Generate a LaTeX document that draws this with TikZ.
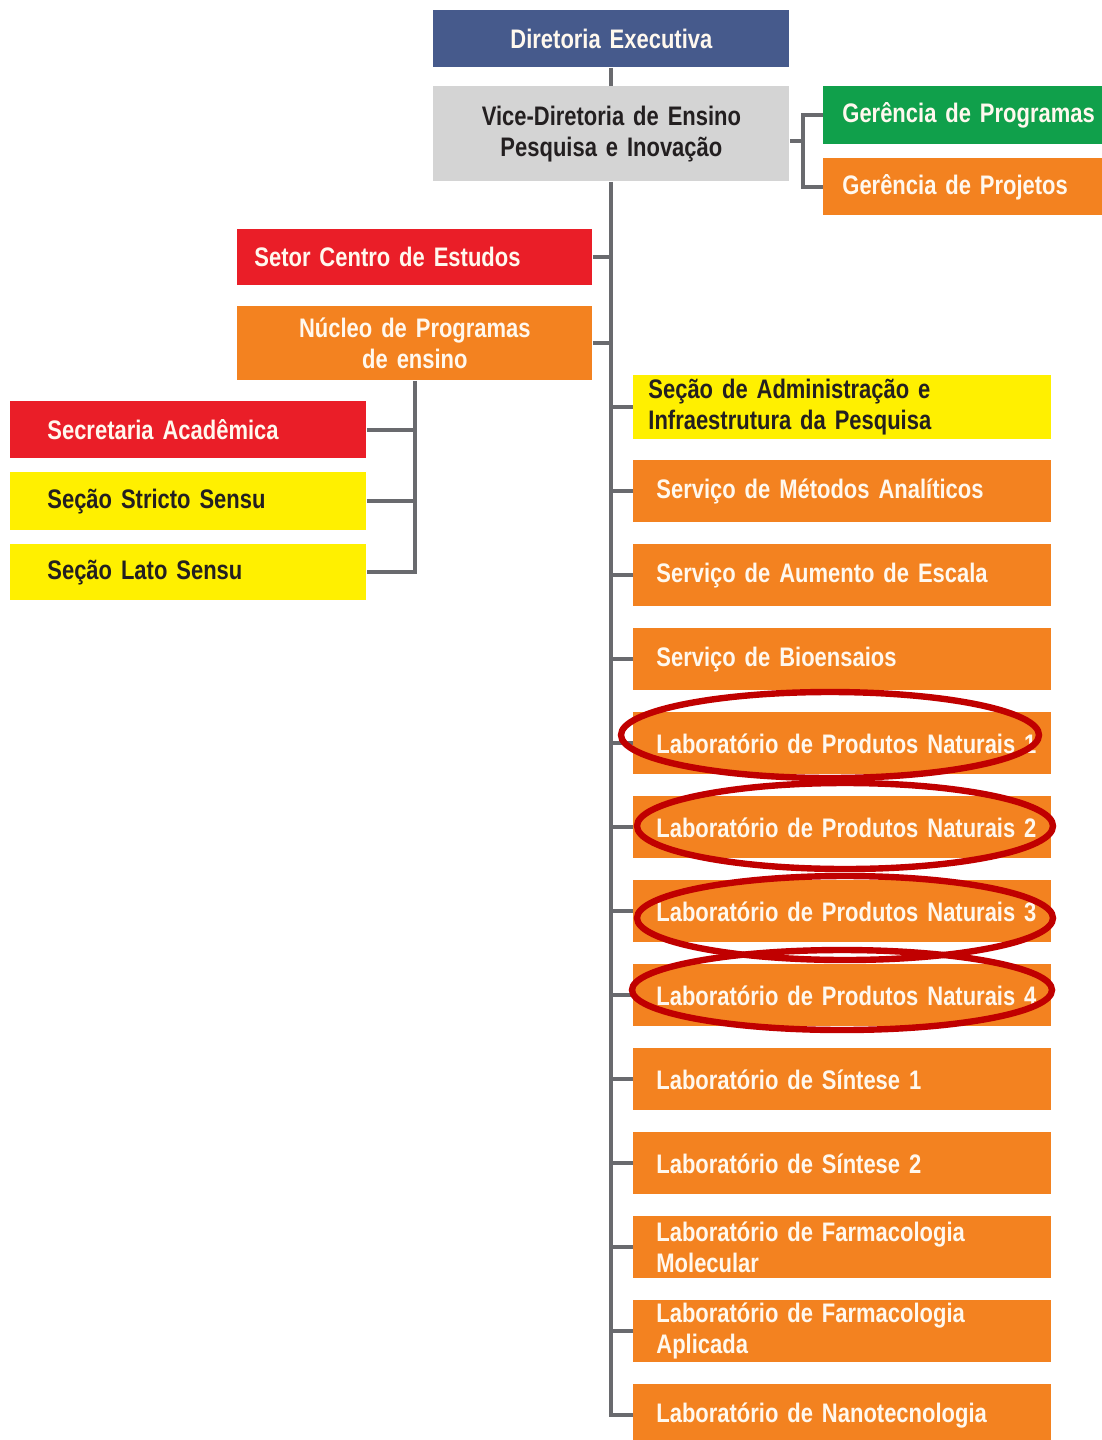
\documentclass[tikz,border=0pt]{standalone}
\usepackage{fontspec}
\setmainfont{Liberation Sans}[FakeStretch = 0.82, WordSpace = 0.82]

\definecolor{azulDir}{RGB}{70, 90, 140}
\definecolor{cinzaVice}{RGB}{212, 212, 212}
\definecolor{verdeGer}{RGB}{16, 160, 75}
\definecolor{laranjaOrg}{RGB}{243, 130, 32}
\definecolor{vermelhoSet}{RGB}{234, 30, 40}
\definecolor{amareloSec}{RGB}{255, 240, 0}
\definecolor{cinzaLinha}{RGB}{105, 106, 110}
\definecolor{vermelhoAnel}{RGB}{192, 0, 0}
\definecolor{brancoTxt}{RGB}{255, 248, 238}
\definecolor{pretoTxt}{RGB}{35, 31, 32}

\tikzset{
	caixa/.style = {rectangle, anchor = north west, inner ysep = 0pt, font = \bfseries\fontsize{13.4}{15.5}\selectfont},
	azul/.style = {caixa, fill = azulDir, text = brancoTxt},
	cinza/.style = {caixa, fill = cinzaVice, text = pretoTxt},
	verde/.style = {caixa, fill = verdeGer, text = brancoTxt},
	laranja/.style = {caixa, fill = laranjaOrg, text = brancoTxt},
	vermelho/.style = {caixa, fill = vermelhoSet, text = brancoTxt},
	amarelo/.style = {caixa, fill = amareloSec, text = pretoTxt},
	ligacao/.style = {draw = cinzaLinha, line width = 2pt},
	destaque/.style = {draw = vermelhoAnel, line width = 3.2pt}
}

\begin{document}
\begin{tikzpicture}[x = 0.5pt, y = -0.5pt]
	 \useasboundingbox (0, 0) rectangle (1102, 1440);
	 \clip (0, 0) rectangle (1102, 1440);
	 \fill[white] (0, 0) rectangle (1102, 1440);

	 \node[azul, text width = 170pt, align = center, inner xsep = 4pt, minimum height = 28.5pt] (diretoria) at (433, 10) {Diretoria Executiva};
	 \node[cinza, text width = 170pt, align = center, inner xsep = 4pt, minimum height = 47.5pt] (vice) at (433, 86) {Vice-Diretoria de Ensino\\Pesquisa e Inovação};
	 \node[verde, text width = 140pt, align = left, inner xsep = 9.5pt, minimum height = 29pt] (gerProg) at (823, 86) {Gerência de Programas};
	 \node[laranja, text width = 140pt, align = left, inner xsep = 9.5pt, minimum height = 28.5pt] (gerProj) at (823, 158) {Gerência de Projetos};

	 \node[vermelho, text width = 160.5pt, align = left, inner xsep = 8.5pt, minimum height = 28pt] (setor) at (237, 229) {Setor Centro de Estudos};
	 \node[laranja, text width = 169.5pt, align = center, inner xsep = 4pt, minimum height = 37pt] (nucleo) at (237, 306) {Núcleo de Programas\\de ensino};

	 \node[vermelho, text width = 141pt, align = left, inner xsep = 18.5pt, minimum height = 28.5pt] (secretaria) at (10, 401) {Secretaria Acadêmica};
	 \node[amarelo, text width = 141pt, align = left, inner xsep = 18.5pt, minimum height = 29pt] (stricto) at (10, 472) {Seção Stricto Sensu};
	 \node[amarelo, text width = 141pt, align = left, inner xsep = 18.5pt, minimum height = 28pt] (lato) at (10, 544) {Seção Lato Sensu};

	 \node[amarelo, text width = 194pt, align = left, inner xsep = 7.5pt, minimum height = 32pt] (admin) at (633, 375) {Seção de Administração e\\Infraestrutura da Pesquisa};

	 \draw[ligacao] (diretoria.south) -- (vice.north);
	 \coordinate (garfo) at (803, 141);
	 \draw[ligacao] (vice.east |- garfo) -- (garfo);
	 \draw[ligacao] (gerProg.west) -| (garfo) |- (gerProj.west);

	 \draw[ligacao] (setor.east) -- (setor.east -| vice.south);
	 \draw[ligacao] (nucleo.east) -- (nucleo.east -| vice.south);
	 \draw[ligacao] (admin.west) -- (admin.west -| vice.south);

	 \draw[ligacao] (nucleo.south) |- (lato.east);
	 \draw[ligacao] (secretaria.east) -- (secretaria.east -| nucleo.south);
	 \draw[ligacao] (stricto.east) -- (stricto.east -| nucleo.south);

	 \foreach \nome/\rotulo [count = \i from 0] in {
	 	 metodos/{Serviço de Métodos Analíticos},
	 	 escala/{Serviço de Aumento de Escala},
	 	 bioensaios/{Serviço de Bioensaios},
	 	 prodNat1/{\mbox{Laboratório de Produtos Naturais 1}},
	 	 prodNat2/{\mbox{Laboratório de Produtos Naturais 2}},
	 	 prodNat3/{\mbox{Laboratório de Produtos Naturais 3}},
	 	 prodNat4/{\mbox{Laboratório de Produtos Naturais 4}},
	 	 sintese1/{Laboratório de Síntese 1},
	 	 sintese2/{Laboratório de Síntese 2},
	 	 farmMol/{Laboratório de Farmacologia\\Molecular},
	 	 farmApl/{Laboratório de Farmacologia\\Aplicada},
	 	 nano/{Laboratório de Nanotecnologia}}
	 {
	 	 \node[laranja, text width = 186pt, align = left, inner xsep = 11.5pt, minimum height = 31pt] (\nome) at (633, 460 + 84*\i) {\rotulo};
	 	 \draw[ligacao] (\nome.west) -- (\nome.west -| vice.south);
	 }
	 \draw[ligacao] (vice.south) |- (nano.west);

	 \draw[destaque] (830, 735) ellipse [x radius = 104.5pt, y radius = 21.5pt];
	 \draw[destaque] (845, 826) ellipse [x radius = 104pt, y radius = 21.5pt];
	 \draw[destaque] (845, 918) ellipse [x radius = 104pt, y radius = 21pt];
	 \draw[destaque] (842, 990) ellipse [x radius = 105pt, y radius = 20pt];
\end{tikzpicture}
\end{document}
